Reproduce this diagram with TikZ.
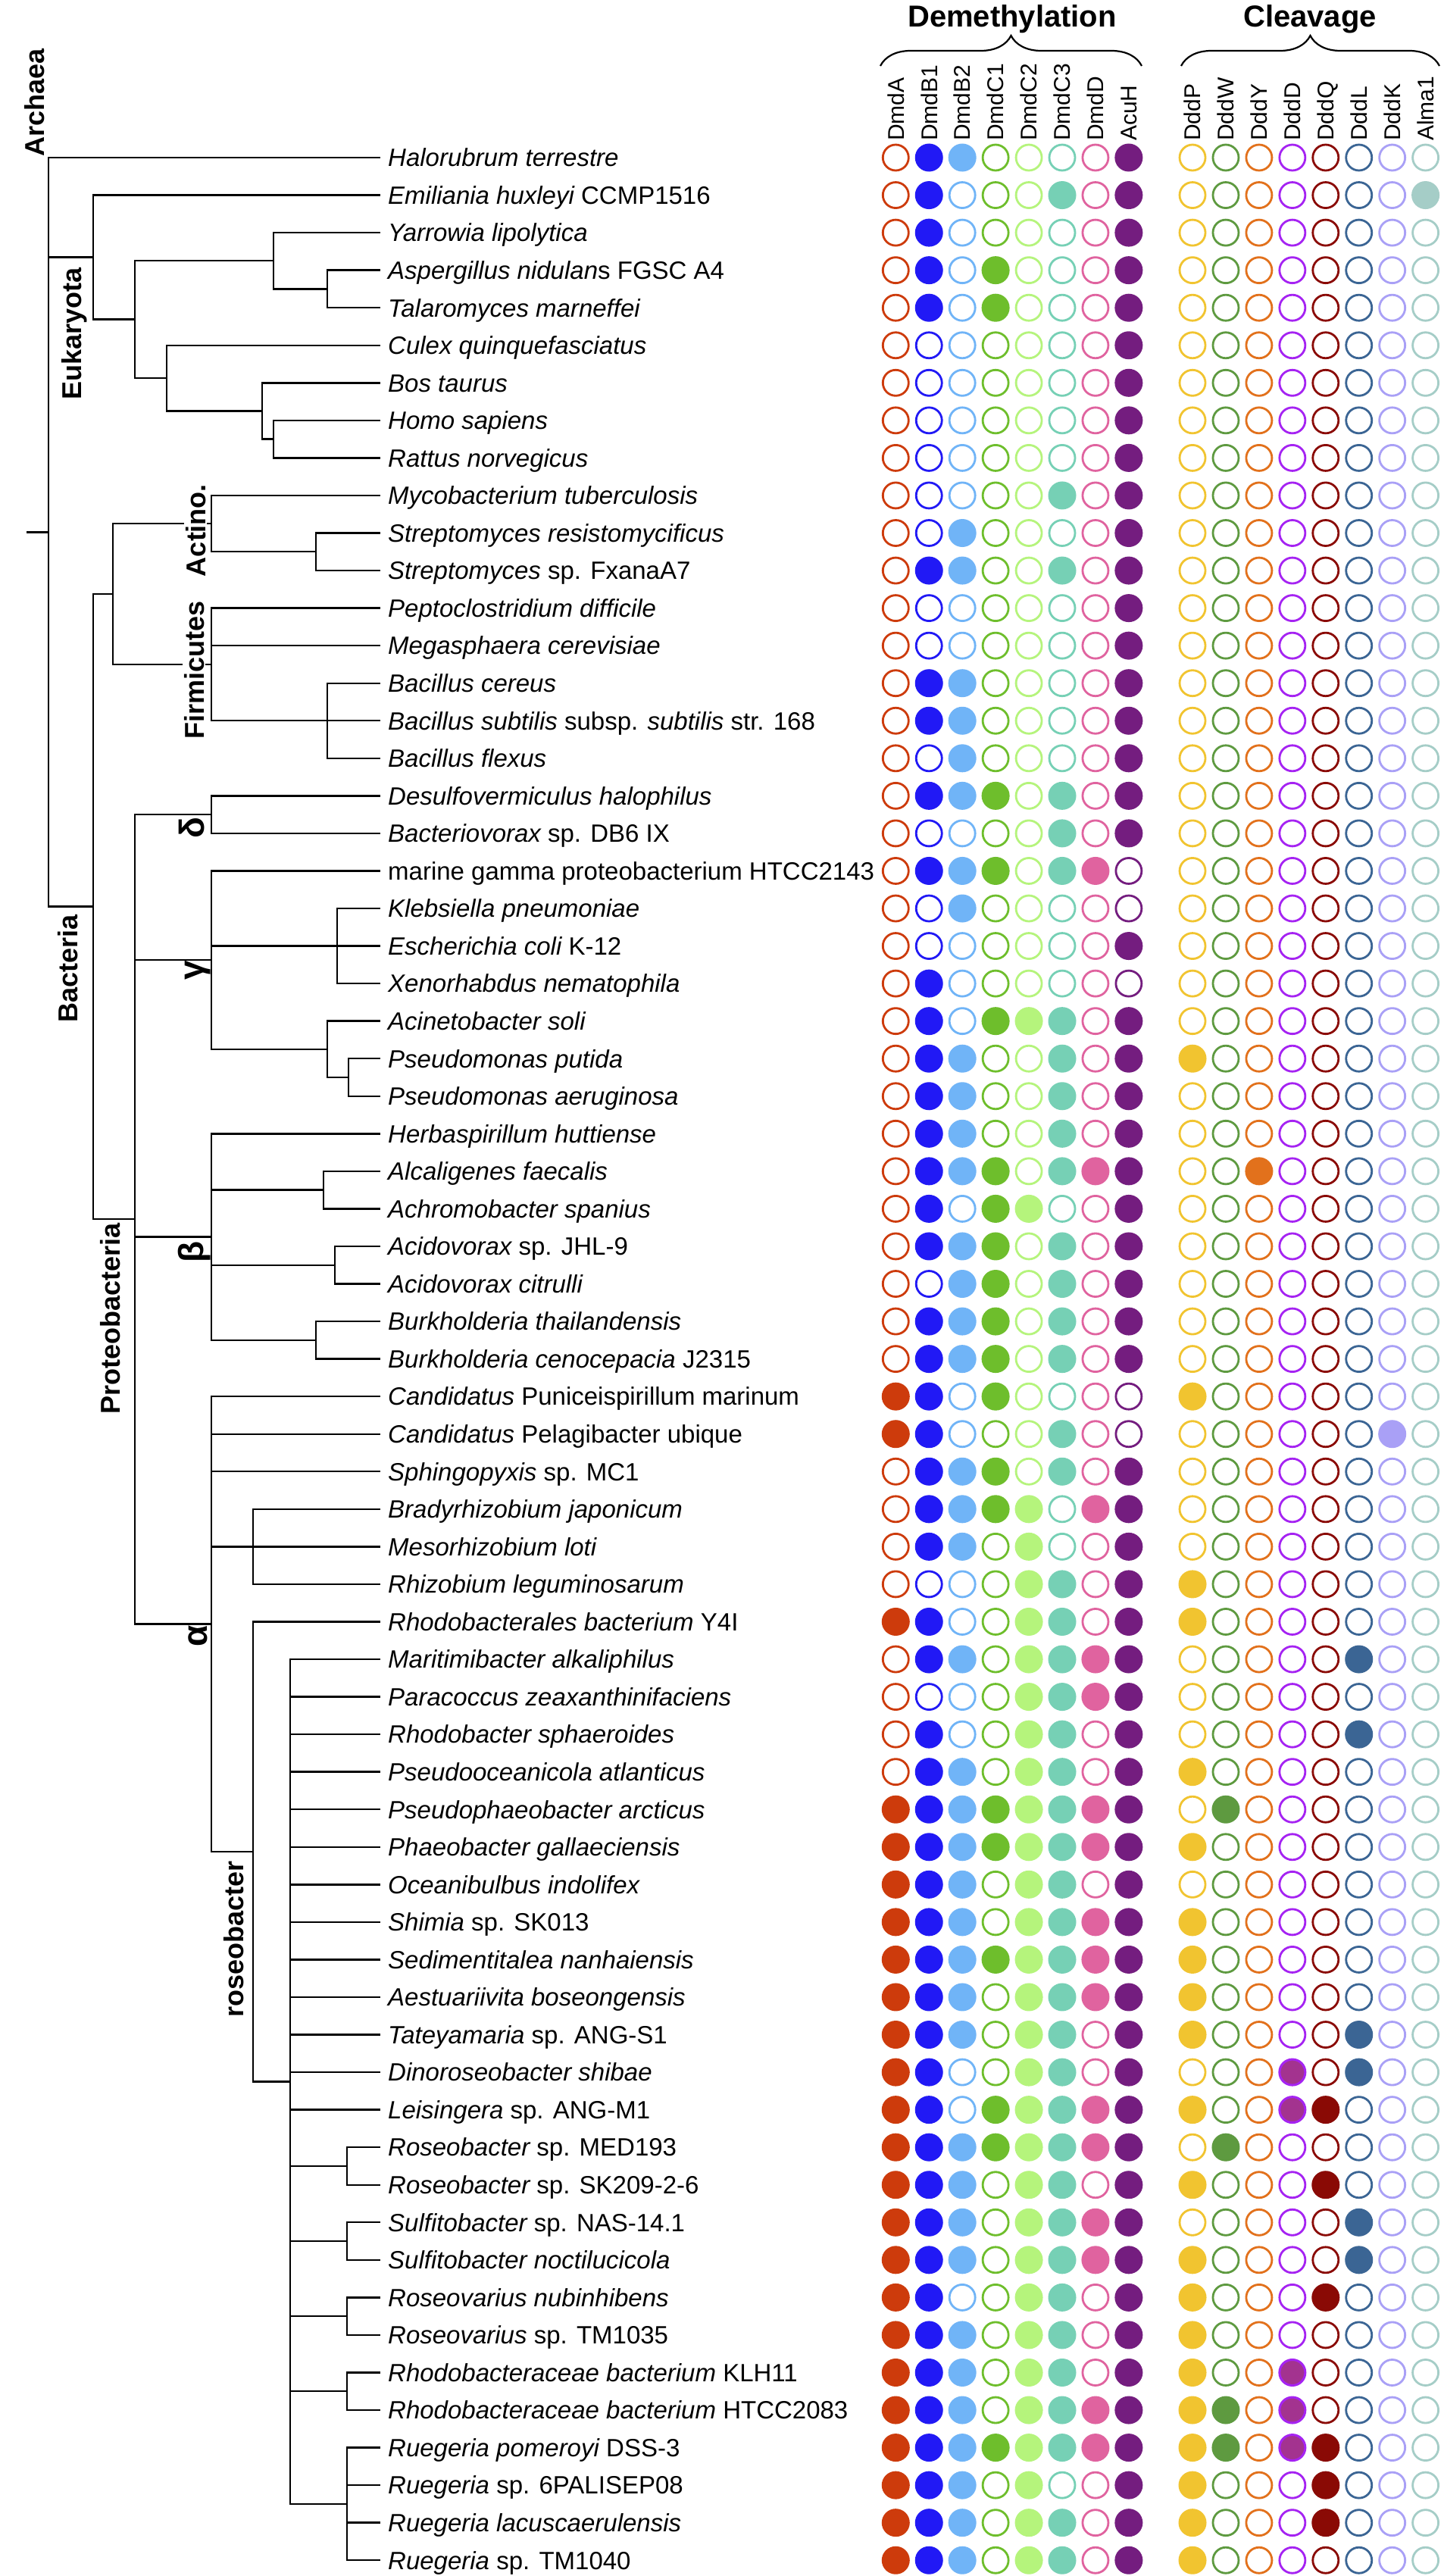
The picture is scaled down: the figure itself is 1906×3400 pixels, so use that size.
\documentclass[tikz,border=0pt]{standalone}
\usepackage{fontspec}
\setmainfont{Liberation Sans}
\usetikzlibrary{decorations.pathreplacing}

% y position of a table row (rows may be fractional for inner nodes)
\newcommand\rowy[1]{208+49.55*(#1-1)}
\newcommand\strain[1]{{\upshape #1}}

% column colours: 1-8 demethylation, 9-16 cleavage
\definecolor{col1}{HTML}{CD3B0C}
\definecolor{col2}{HTML}{2119F5}
\definecolor{col3}{HTML}{70B4F7}
\definecolor{col4}{HTML}{6EBE2C}
\definecolor{col5}{HTML}{B5F47C}
\definecolor{col6}{HTML}{76D0B5}
\definecolor{col7}{HTML}{E0639F}
\definecolor{col8}{HTML}{741D7F}
\definecolor{col9}{HTML}{F1C430}
\definecolor{col10}{HTML}{5E9A40}
\definecolor{col11}{HTML}{E2711C}
\definecolor{col12}{HTML}{A523F2}
\definecolor{col13}{HTML}{8A0A05}
\definecolor{col14}{HTML}{3B6594}
\definecolor{col15}{HTML}{A9A0F6}
\definecolor{col16}{HTML}{A5CDC7}
\definecolor{dddfill}{HTML}{A3338F}

\begin{document}
\begin{tikzpicture}
    [
    x=1pt, y=-1pt,
    branch/.style={line width=2.4pt},
    species/.style={anchor=west, inner xsep=10pt, inner ysep=0pt, text height=23.6pt, text depth=0pt,
        font=\fontsize{33pt}{40pt}\selectfont\itshape},
    clade/.style={rotate=90, inner sep=0pt, text height=26pt, text depth=0pt,
        font=\fontsize{36pt}{43pt}\selectfont\bfseries},
    greek/.style={clade, text height=33pt, font=\fontsize{46pt}{52pt}\selectfont\bfseries},
    gene/.style={rotate=90, anchor=west, inner sep=0pt, text height=21.5pt, text depth=0pt,
        font=\fontsize{30pt}{36pt}\selectfont},
    head/.style={anchor=base, inner sep=0pt, font=\fontsize{40pt}{48pt}\selectfont\bfseries},
    brace/.style={line width=2.2pt, decorate, decoration={brace, amplitude=40pt}},
    dotE/.style={circle, inner sep=0pt, minimum size=34pt, line width=2.8pt, draw=#1},
    dotF/.style={circle, inner sep=0pt, minimum size=35pt, line width=2pt, draw=#1, fill=#1},
    dotD/.style={circle, inner sep=0pt, minimum size=34pt, line width=3pt, draw=col12, fill=dddfill}
    ]
    \path[use as bounding box, fill=white] (0,0) rectangle (1906,3400);

    % Headers and braces
    \node[head] (hDem) at (1336,35) {Demethylation};
    \node[head] (hClv) at (1729,35) {Cleavage};
    \coordinate (bDemL) at (1162,87);
    \coordinate (bDemR) at (1507,87);
    \coordinate (bClvL) at (1559,87);
    \coordinate (bClvR) at (1900,87);
    \draw[brace] (bDemL) -- (bDemR);
    \draw[brace] (bClvL) -- (bClvR);

    % Gene names
    \foreach \g [count=\c] in {DmdA,DmdB1,DmdB2,DmdC1,DmdC2,DmdC3,DmdD,AcuH,
                               DddP,DddW,DddY,DddD,DddQ,DddL,DddK,Alma1}
        \node[gene] (g\g) at ({1182.3+(\c-1)*43.94+(\c>8)*40.2},186) {\g};

    % Species (leaves)
    \foreach \i/\txt in {
        1/{Halorubrum terrestre},
        2/{Emiliania huxleyi \strain{CCMP1516}},
        3/{Yarrowia lipolytica},
        4/{Aspergillus nidulan\strain{s FGSC A4}},
        5/{Talaromyces marneffei},
        6/{Culex quinquefasciatus},
        7/{Bos taurus},
        8/{Homo sapiens},
        9/{Rattus norvegicus},
        10/{Mycobacterium tuberculosis},
        11/{Streptomyces resistomycificus},
        12/{Streptomyces \strain{sp. FxanaA7}},
        13/{Peptoclostridium difficile},
        14/{Megasphaera cerevisiae},
        15/{Bacillus cereus},
        16/{Bacillus subtilis \strain{subsp.} subtilis \strain{str. 168}},
        17/{Bacillus flexus},
        18/{Desulfovermiculus halophilus},
        19/{Bacteriovorax \strain{sp. DB6 IX}},
        20/{\strain{marine gamma proteobacterium HTCC2143}},
        21/{Klebsiella pneumoniae},
        22/{Escherichia coli \strain{K-12}},
        23/{Xenorhabdus nematophila},
        24/{Acinetobacter soli},
        25/{Pseudomonas putida},
        26/{Pseudomonas aeruginosa},
        27/{Herbaspirillum huttiense},
        28/{Alcaligenes faecalis},
        29/{Achromobacter spanius},
        30/{Acidovorax \strain{sp. JHL-9}},
        31/{Acidovorax citrulli},
        32/{Burkholderia thailandensis},
        33/{Burkholderia cenocepacia \strain{J2315}},
        34/{Candidatus \strain{Puniceispirillum marinum}},
        35/{Candidatus \strain{Pelagibacter ubique}},
        36/{Sphingopyxis \strain{sp. MC1}},
        37/{Bradyrhizobium japonicum},
        38/{Mesorhizobium loti},
        39/{Rhizobium leguminosarum},
        40/{Rhodobacterales bacterium \strain{Y4I}},
        41/{Maritimibacter alkaliphilus},
        42/{Paracoccus zeaxanthinifaciens},
        43/{Rhodobacter sphaeroides},
        44/{Pseudooceanicola atlanticus},
        45/{Pseudophaeobacter arcticus},
        46/{Phaeobacter gallaeciensis},
        47/{Oceanibulbus indolifex},
        48/{Shimia \strain{sp. SK013}},
        49/{Sedimentitalea nanhaiensis},
        50/{Aestuariivita boseongensis},
        51/{Tateyamaria \strain{sp. ANG-S1}},
        52/{Dinoroseobacter shibae},
        53/{Leisingera \strain{sp. ANG-M1}},
        54/{Roseobacter \strain{sp. MED193}},
        55/{Roseobacter \strain{sp. SK209-2-6}},
        56/{Sulfitobacter \strain{sp. NAS-14.1}},
        57/{Sulfitobacter noctilucicola},
        58/{Roseovarius nubinhibens},
        59/{Roseovarius \strain{sp. TM1035}},
        60/{Rhodobacteraceae bacterium \strain{KLH11}},
        61/{Rhodobacteraceae bacterium \strain{HTCC2083}},
        62/{Ruegeria pomeroyi \strain{DSS-3}},
        63/{Ruegeria \strain{sp. 6PALISEP08}},
        64/{Ruegeria lacuscaerulensis},
        65/{Ruegeria \strain{sp. TM1040}}}
        \node[species] (s\i) at (502,{\rowy{\i}}) {\txt};

    % Inner nodes of the tree
    \coordinate (stub)    at (35,{\rowy{10.98}});
    \coordinate (nRoot)   at (64,{\rowy{10.98}});
    \coordinate (nEuk)    at (123,{\rowy{3.656}});
    \coordinate (nEukB)   at (178,{\rowy{5.3125}});
    \coordinate (nFungi)  at (361,{\rowy{3.75}});
    \coordinate (nAsp)    at (432,{\rowy{4.5}});
    \coordinate (nAnimal) at (220,{\rowy{6.875}});
    \coordinate (nMammal) at (346,{\rowy{7.75}});
    \coordinate (nHomo)   at (361,{\rowy{8.5}});
    \coordinate (nBact)   at (123,{\rowy{20.95}});
    \coordinate (nActFir) at (149,{\rowy{12.625}});
    \coordinate (nActino) at (279,{\rowy{10.75}});
    \coordinate (nStrep)  at (417,{\rowy{11.5}});
    \coordinate (nFirm)   at (279,{\rowy{14.5}});
    \coordinate (nBacil)  at (432,{\rowy{16}});
    \coordinate (nProteo) at (178,{\rowy{29.28}});
    \coordinate (nDelta)  at (279,{\rowy{18.5}});
    \coordinate (nGamma)  at (279,{\rowy{22.375}});
    \coordinate (nEntero) at (445,{\rowy{22}});
    \coordinate (nAcPs)   at (432,{\rowy{24.75}});
    \coordinate (nPseudo) at (460,{\rowy{25.5}});
    \coordinate (nBeta)   at (279,{\rowy{29.75}});
    \coordinate (nAlcal)  at (427,{\rowy{28.5}});
    \coordinate (nAcido)  at (442,{\rowy{30.5}});
    \coordinate (nBurk)   at (417,{\rowy{32.5}});
    \coordinate (nAlpha)  at (279,{\rowy{40.0625}});
    \coordinate (nRhizo)  at (334,{\rowy{38}});
    \coordinate (nRhoba)  at (334,{\rowy{46.125}});
    \coordinate (nRoseo)  at (383,{\rowy{52.25}});
    \coordinate (nRoseob) at (458,{\rowy{54.5}});
    \coordinate (nSulfi)  at (458,{\rowy{56.5}});
    \coordinate (nRosev)  at (458,{\rowy{58.5}});
    \coordinate (nRhodo)  at (458,{\rowy{60.5}});
    \coordinate (nRueg)   at (458,{\rowy{63.5}});

    % Branches
    \draw[branch] (stub) -- (nRoot);
    \foreach \pa/\ch in {
        nRoot/s1.west, nRoot/nEuk, nRoot/nBact,
        nEuk/s2.west, nEuk/nEukB, nEukB/nFungi, nEukB/nAnimal,
        nFungi/s3.west, nFungi/nAsp, nAsp/s4.west, nAsp/s5.west,
        nAnimal/s6.west, nAnimal/nMammal, nMammal/s7.west, nMammal/nHomo,
        nHomo/s8.west, nHomo/s9.west,
        nBact/nActFir, nBact/nProteo, nActFir/nActino, nActFir/nFirm,
        nActino/s10.west, nActino/nStrep, nStrep/s11.west, nStrep/s12.west,
        nFirm/s13.west, nFirm/s14.west, nFirm/nBacil,
        nBacil/s15.west, nBacil/s16.west, nBacil/s17.west,
        nProteo/nDelta, nProteo/nGamma, nProteo/nBeta, nProteo/nAlpha,
        nDelta/s18.west, nDelta/s19.west,
        nGamma/s20.west, nGamma/nEntero, nGamma/nAcPs,
        nEntero/s21.west, nEntero/s22.west, nEntero/s23.west,
        nAcPs/s24.west, nAcPs/nPseudo, nPseudo/s25.west, nPseudo/s26.west,
        nBeta/s27.west, nBeta/nAlcal, nBeta/nAcido, nBeta/nBurk,
        nAlcal/s28.west, nAlcal/s29.west, nAcido/s30.west, nAcido/s31.west,
        nBurk/s32.west, nBurk/s33.west,
        nAlpha/s34.west, nAlpha/s35.west, nAlpha/s36.west, nAlpha/nRhizo, nAlpha/nRhoba,
        nRhizo/s37.west, nRhizo/s38.west, nRhizo/s39.west,
        nRhoba/s40.west, nRhoba/nRoseo,
        nRoseo/nRoseob, nRoseo/nSulfi, nRoseo/nRosev, nRoseo/nRhodo, nRoseo/nRueg,
        nRoseob/s54.west, nRoseob/s55.west, nSulfi/s56.west, nSulfi/s57.west,
        nRosev/s58.west, nRosev/s59.west, nRhodo/s60.west, nRhodo/s61.west,
        nRueg/s62.west, nRueg/s63.west, nRueg/s64.west, nRueg/s65.west}
        \draw[branch] (\pa) |- (\ch);
    \foreach \i in {41,...,53}
        \draw[branch] (nRoseo) |- (s\i.west);

    % Clade labels
    \node[clade, anchor=west] (lArch) at (45,207) {Archaea};
    \node[clade, anchor=east] (lEuk) at (94,353) {Eukaryota};
    \node[clade, anchor=east] (lBact) at (89,1207) {Bacteria};
    \node[clade, anchor=east] (lProt) at (145,1614) {Proteobacteria};
    \node[clade, fill=white, inner sep=2pt] (lAct) at (258,700) {Actino.};
    \node[clade, fill=white, inner sep=2pt] (lFirm) at (256,884) {Firmicutes};
    \node[greek, anchor=east] (lDelta) at (253,1078) {δ};
    \node[greek, anchor=east] (lGamma) at (252,1268) {γ};
    \node[greek, anchor=east] (lBeta) at (252,1638) {β};
    \node[greek, anchor=east] (lAlpha) at (257,2145) {α};
    \node[clade, anchor=east] (lRoseo) at (308,2456) {roseobacter};

    % Presence (filled) / absence (open) of genes
    \foreach \r/\code in {
        1/{0,1,1,0,0,0,0,1, 0,0,0,0,0,0,0,0},
        2/{0,1,0,0,0,1,0,1, 0,0,0,0,0,0,0,1},
        3/{0,1,0,0,0,0,0,1, 0,0,0,0,0,0,0,0},
        4/{0,1,0,1,0,0,0,1, 0,0,0,0,0,0,0,0},
        5/{0,1,0,1,0,0,0,1, 0,0,0,0,0,0,0,0},
        6/{0,0,0,0,0,0,0,1, 0,0,0,0,0,0,0,0},
        7/{0,0,0,0,0,0,0,1, 0,0,0,0,0,0,0,0},
        8/{0,0,0,0,0,0,0,1, 0,0,0,0,0,0,0,0},
        9/{0,0,0,0,0,0,0,1, 0,0,0,0,0,0,0,0},
        10/{0,0,0,0,0,1,0,1, 0,0,0,0,0,0,0,0},
        11/{0,0,1,0,0,0,0,1, 0,0,0,0,0,0,0,0},
        12/{0,1,1,0,0,1,0,1, 0,0,0,0,0,0,0,0},
        13/{0,0,0,0,0,0,0,1, 0,0,0,0,0,0,0,0},
        14/{0,0,0,0,0,0,0,1, 0,0,0,0,0,0,0,0},
        15/{0,1,1,0,0,0,0,1, 0,0,0,0,0,0,0,0},
        16/{0,1,1,0,0,0,0,1, 0,0,0,0,0,0,0,0},
        17/{0,0,1,0,0,0,0,1, 0,0,0,0,0,0,0,0},
        18/{0,1,1,1,0,1,0,1, 0,0,0,0,0,0,0,0},
        19/{0,0,0,0,0,1,0,1, 0,0,0,0,0,0,0,0},
        20/{0,1,1,1,0,1,1,0, 0,0,0,0,0,0,0,0},
        21/{0,0,1,0,0,0,0,0, 0,0,0,0,0,0,0,0},
        22/{0,0,0,0,0,0,0,1, 0,0,0,0,0,0,0,0},
        23/{0,1,0,0,0,0,0,0, 0,0,0,0,0,0,0,0},
        24/{0,1,0,1,1,1,0,1, 0,0,0,0,0,0,0,0},
        25/{0,1,1,0,0,1,0,1, 1,0,0,0,0,0,0,0},
        26/{0,1,1,0,0,1,0,1, 0,0,0,0,0,0,0,0},
        27/{0,1,1,0,0,1,0,1, 0,0,0,0,0,0,0,0},
        28/{0,1,1,1,0,1,1,1, 0,0,1,0,0,0,0,0},
        29/{0,1,0,1,1,0,0,1, 0,0,0,0,0,0,0,0},
        30/{0,1,1,1,0,1,0,1, 0,0,0,0,0,0,0,0},
        31/{0,0,1,1,0,1,0,1, 0,0,0,0,0,0,0,0},
        32/{0,1,1,1,0,1,0,1, 0,0,0,0,0,0,0,0},
        33/{0,1,1,1,0,1,0,1, 0,0,0,0,0,0,0,0},
        34/{1,1,0,1,0,0,0,0, 1,0,0,0,0,0,0,0},
        35/{1,1,0,0,0,1,0,0, 0,0,0,0,0,0,1,0},
        36/{0,1,1,1,0,1,0,1, 0,0,0,0,0,0,0,0},
        37/{0,1,1,1,1,0,1,1, 0,0,0,0,0,0,0,0},
        38/{0,1,1,0,1,0,0,1, 0,0,0,0,0,0,0,0},
        39/{0,0,0,0,1,1,0,1, 1,0,0,0,0,0,0,0},
        40/{1,1,0,0,1,1,0,1, 1,0,0,0,0,0,0,0},
        41/{0,1,1,0,1,1,1,1, 0,0,0,0,0,1,0,0},
        42/{0,0,0,0,1,1,1,1, 0,0,0,0,0,0,0,0},
        43/{0,1,0,0,1,1,0,1, 0,0,0,0,0,1,0,0},
        44/{0,1,1,0,1,1,0,1, 1,0,0,0,0,0,0,0},
        45/{1,1,1,1,1,1,1,1, 0,1,0,0,0,0,0,0},
        46/{1,1,1,1,1,1,1,1, 1,0,0,0,0,0,0,0},
        47/{1,1,1,0,1,1,0,1, 0,0,0,0,0,0,0,0},
        48/{1,1,1,0,1,1,1,1, 1,0,0,0,0,0,0,0},
        49/{1,1,1,1,1,1,1,1, 1,0,0,0,0,0,0,0},
        50/{1,1,1,0,1,1,1,1, 1,0,0,0,0,0,0,0},
        51/{1,1,1,0,1,1,0,1, 1,0,0,0,0,1,0,0},
        52/{1,1,0,0,1,1,0,1, 0,0,0,2,0,1,0,0},
        53/{1,1,0,1,1,1,1,1, 1,0,0,2,1,0,0,0},
        54/{1,1,1,1,1,1,1,1, 0,1,0,0,0,0,0,0},
        55/{1,1,1,0,1,1,0,1, 1,0,0,0,1,0,0,0},
        56/{1,1,1,0,1,1,1,1, 0,0,0,0,0,1,0,0},
        57/{1,1,1,0,1,1,1,1, 1,0,0,0,0,1,0,0},
        58/{1,1,0,0,1,1,0,1, 1,0,0,0,1,0,0,0},
        59/{1,1,1,0,1,1,0,1, 1,0,0,0,0,0,0,0},
        60/{1,1,1,0,1,1,0,1, 1,0,0,2,0,0,0,0},
        61/{1,1,1,0,1,1,1,1, 1,1,0,2,0,0,0,0},
        62/{1,1,1,1,1,1,1,1, 1,1,0,2,1,0,0,0},
        63/{1,1,1,0,1,0,0,1, 1,0,0,0,1,0,0,0},
        64/{1,1,1,0,1,1,0,1, 1,0,0,0,1,0,0,0},
        65/{1,1,1,0,1,1,0,1, 1,0,0,0,0,0,0,0}}
    {
        \foreach \v [count=\c] in \code {
            \pgfmathsetmacro\cx{1182.3+(\c-1)*43.94+(\c>8)*40.2}
            \ifcase\v
                \node[dotE=col\c] (d\r-\c) at (\cx,{\rowy{\r}}) {};
            \or
                \node[dotF=col\c] (d\r-\c) at (\cx,{\rowy{\r}}) {};
            \or
                \node[dotD] (d\r-\c) at (\cx,{\rowy{\r}}) {};
            \fi
        }
    }
\end{tikzpicture}
\end{document}
